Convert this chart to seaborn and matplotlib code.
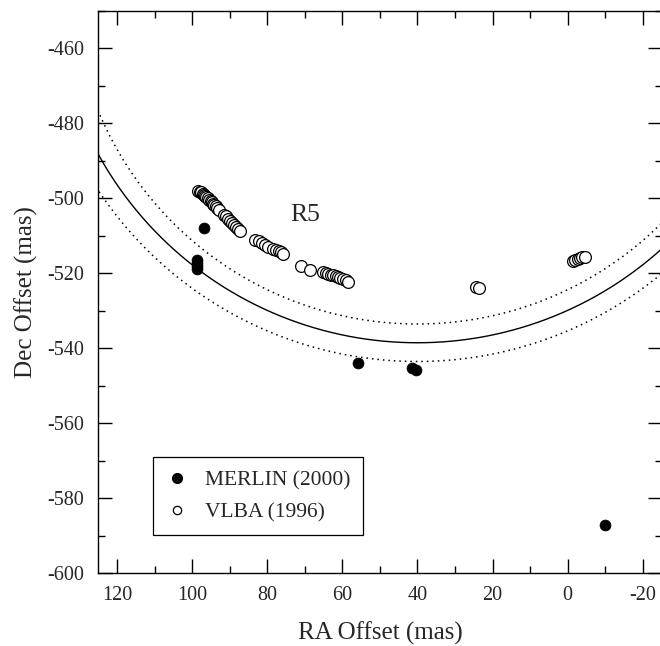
import numpy as np
import pandas as pd
import matplotlib
matplotlib.use("Agg")
import matplotlib.pyplot as plt
import seaborn as sns
from matplotlib.ticker import MultipleLocator
from matplotlib.lines import Line2D

# Maser spot positions (RA offset, Dec offset) in mas
vlba_ra = [98.5, 98.0, 97.6, 97.2, 96.9, 96.5, 96.2, 95.8, 95.5, 95.1, 94.8, 94.4,
           94.1, 93.7, 93.3, 92.8, 91.4, 90.9, 90.4, 89.9, 89.4, 88.9, 88.4, 87.8, 87.2,
           83.2, 82.3, 81.4, 80.6, 79.7, 78.6, 77.8, 77.0, 76.3, 75.7,
           71.0, 68.6,
           65.1, 64.4, 63.7, 63.1, 62.4, 61.8, 61.1, 60.5, 59.8, 59.1, 58.4,
           24.5, 23.7,
           -1.4, -2.0, -2.7, -3.3, -3.9, -4.5]
vlba_dec = [-498.0, -498.2, -498.4, -498.7, -499.0, -499.3, -499.6, -500.0, -500.3, -500.7,
            -501.0, -501.4, -501.7, -502.1, -502.5, -503.0, -504.3, -504.8, -505.4, -506.0,
            -506.6, -507.1, -507.6, -508.1, -508.6,
            -511.0, -511.3, -511.9, -512.4, -512.9, -513.5, -513.8, -514.1, -514.4, -514.7,
            -518.0, -519.2,
            -519.6, -519.9, -520.1, -520.3, -520.5, -520.8, -521.0, -521.3, -521.5, -521.8, -522.2,
            -523.7, -523.9,
            -516.6, -516.3, -516.1, -515.9, -515.7, -515.6]

merlin_ra = [96.8, 98.8, 98.7, 98.6, 98.6, 55.8, 41.5, 40.4, -10.0]
merlin_dec = [-508.0, -516.3, -517.2, -518.1, -518.9, -544.0, -545.2, -545.7, -587.1]

# Fitted ring: centre, radius and half-width (mas)
ring_center_ra = 40.0
ring_center_dec = -441.5
ring_radius = 97.0
ring_halfwidth = 5.0

x_ticks = [120, 100, 80, 60, 40, 20, 0, -20]
y_ticks = [-460, -480, -500, -520, -540, -560, -580, -600]

sns.set_style("ticks")
plt.rcParams["font.family"] = ["Liberation Serif", "DejaVu Serif"]
plt.rcParams["axes.unicode_minus"] = False

fig = plt.figure(figsize=(6.60, 6.46), dpi=100)
ax = fig.add_axes([98.3 / 660, (646 - 573.3) / 646, 563.2 / 660, 562.3 / 646])


def ring_arc(radius):
    ra = np.linspace(-26, 126, 600)
    dec = ring_center_dec - np.sqrt(np.clip(radius**2 - (ra - ring_center_ra) ** 2, 0, None))
    return pd.DataFrame({"ra": ra, "dec": dec})


sns.lineplot(data=ring_arc(ring_radius), x="ra", y="dec", sort=False, estimator=None,
             color="black", linewidth=1.0, ax=ax)
for r in (ring_radius - ring_halfwidth, ring_radius + ring_halfwidth):
    sns.lineplot(data=ring_arc(r), x="ra", y="dec", sort=False, estimator=None,
                 color="black", linewidth=1.1, linestyle=(0, (1, 2.6)), ax=ax)

sns.scatterplot(x=vlba_ra, y=vlba_dec, s=72, facecolor="white", edgecolor="black",
                linewidth=0.9, zorder=3, ax=ax)
sns.scatterplot(x=merlin_ra, y=merlin_dec, s=62, color="black", edgecolor="black",
                linewidth=0.5, zorder=4, ax=ax)

ax.text(69.8, -504.5, "R5", fontsize=18.5, ha="center", va="center")

ax.set_xlim(125, -25)
ax.set_ylim(-600, -450)
ax.set_xticks(x_ticks)
ax.set_yticks(y_ticks)
ax.xaxis.set_minor_locator(MultipleLocator(10))
ax.yaxis.set_minor_locator(MultipleLocator(10))
ax.tick_params(which="both", direction="in", top=True, right=True, width=1.0,
               labelsize=14.5, color="black")
ax.tick_params(which="major", length=10)
ax.tick_params(which="minor", length=5)
ax.tick_params(axis="x", pad=9)
ax.tick_params(axis="y", pad=10)
for sp in ax.spines.values():
    sp.set_linewidth(1.0)
    sp.set_color("black")

ax.set_xlabel("RA Offset (mas)", fontsize=18, labelpad=12)
ax.set_ylabel("Dec Offset (mas)", fontsize=18, labelpad=7)

handles = [
    Line2D([], [], marker="o", linestyle="", markerfacecolor="black",
           markeredgecolor="black", markersize=7),
    Line2D([], [], marker="o", linestyle="", markerfacecolor="white",
           markeredgecolor="black", markeredgewidth=0.9, markersize=6),
]
leg = ax.legend(handles, ["MERLIN (2000)", "VLBA (1996)"], loc="lower left",
                bbox_to_anchor=(0.097, 0.068), borderaxespad=0, fontsize=15.5,
                frameon=True, fancybox=False, edgecolor="black", framealpha=1,
                handlelength=1.0, handletextpad=0.8, labelspacing=0.55,
                borderpad=0.6)
leg.get_frame().set_linewidth(0.9)

fig.savefig("out.png", dpi=100)
